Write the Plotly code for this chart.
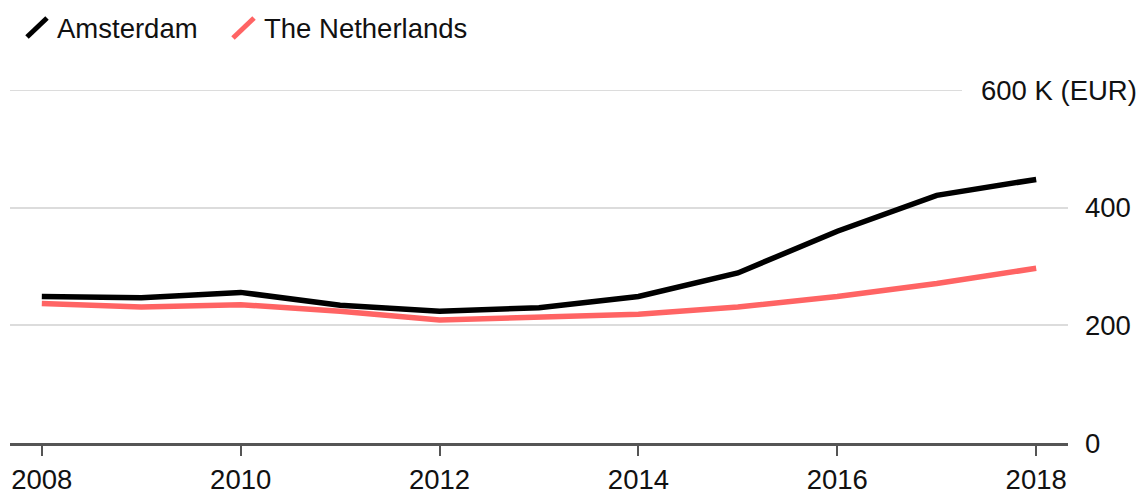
import plotly.graph_objects as go

years = [2008, 2009, 2010, 2011, 2012, 2013, 2014, 2015, 2016, 2017, 2018]
amsterdam = [249, 247, 256, 234, 224, 230, 249, 289, 360, 421, 448]
netherlands = [237, 231, 235, 224, 209, 214, 219, 231, 249, 271, 297]
x_ticks = [2008, 2010, 2012, 2014, 2016, 2018]
y_ticks = [0, 200, 400]
y_ticktext = ["0", "200", "400"]
top_label = "600 K (EUR)"
series_names = ["Amsterdam", "The Netherlands"]

W, H = 1140, 496
ML, MR, MT, MB = 10, 72, 90, 53
PW, PH = W - ML - MR, H - MT - MB

def px_x(x):
    return (x - ML) / PW

def px_y(y):
    return (H - MB - y) / PH

FONT = "Helvetica Neue, Helvetica, Arial, Liberation Sans, sans-serif"
FS = 27.5
BLACK = "#000000"
RED = "#ff6464"
GRID = "#dcdcdc"

fig = go.Figure()
fig.add_trace(go.Scatter(x=years, y=netherlands, mode="lines", name=series_names[1],
                         line=dict(color=RED, width=5.5), showlegend=False))
fig.add_trace(go.Scatter(x=years, y=amsterdam, mode="lines", name=series_names[0],
                         line=dict(color=BLACK, width=5.5), showlegend=False))

shapes = [
    dict(type="line", xref="paper", yref="y", x0=0, x1=px_x(962), y0=600, y1=600,
         line=dict(color=GRID, width=2), layer="below"),
    dict(type="line", xref="paper", yref="paper", x0=px_x(27), y0=px_y(37), x1=px_x(47), y1=px_y(18),
         line=dict(color=BLACK, width=5)),
    dict(type="line", xref="paper", yref="paper", x0=px_x(233), y0=px_y(38), x1=px_x(254), y1=px_y(18),
         line=dict(color=RED, width=5)),
]

annotations = [
    dict(text=top_label, xref="paper", yref="y", x=px_x(979), y=600, xanchor="left", yanchor="middle",
         showarrow=False, font=dict(size=FS, color="#111", family=FONT)),
    dict(text=series_names[0], xref="paper", yref="paper", x=px_x(55), y=px_y(28), xanchor="left",
         yanchor="middle", showarrow=False, font=dict(size=FS, color="#111", family=FONT)),
    dict(text=series_names[1], xref="paper", yref="paper", x=px_x(262), y=px_y(28), xanchor="left",
         yanchor="middle", showarrow=False, font=dict(size=FS, color="#111", family=FONT)),
]

fig.update_layout(
    width=W, height=H,
    margin=dict(l=ML, r=MR, t=MT, b=MB, pad=0, autoexpand=False),
    plot_bgcolor="white", paper_bgcolor="white",
    font=dict(family=FONT, size=FS, color="#111"),
    shapes=shapes, annotations=annotations,
    xaxis=dict(range=[2007.68, 2018.32], tickvals=x_ticks, ticktext=[str(t) for t in x_ticks],
               ticks="outside", ticklen=10, tickwidth=2, tickcolor="#555",
               showline=True, linecolor="#555", linewidth=3, showgrid=False, zeroline=False,
               automargin=False, ticklabelstandoff=0,
               tickfont=dict(size=FS, color="#111")),
    yaxis=dict(range=[0, 600], tickvals=y_ticks, ticktext=y_ticktext, side="right",
               showgrid=True, gridcolor=GRID, gridwidth=2, zeroline=False, showline=False,
               automargin=False, ticks="", ticklabelstandoff=16,
               tickfont=dict(size=FS, color="#111")),
)

fig.write_html("out.html")
